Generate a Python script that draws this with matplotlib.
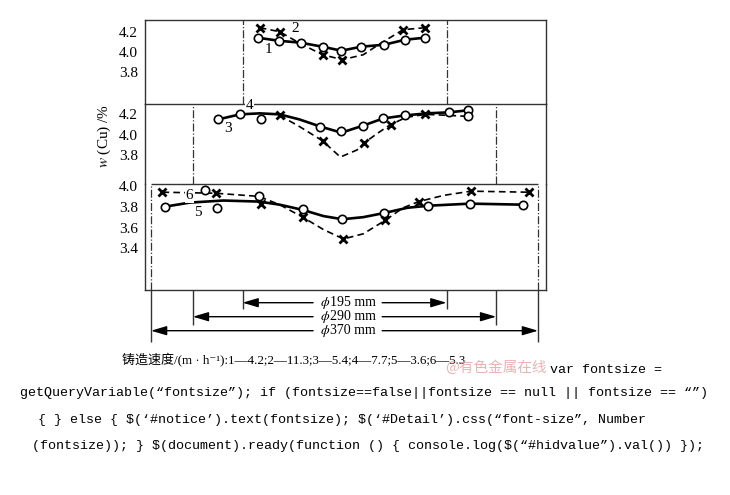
import numpy as np
import matplotlib.pyplot as plt
from matplotlib.transforms import offset_copy

plt.rcParams['font.family'] = ['Liberation Serif', 'Noto Sans CJK SC', 'DejaVu Sans']
plt.rcParams['mathtext.fontset'] = 'stix'

# position across ingot (mm, 0 = centre) and w(Cu) in %
# top panel, phi195 ingot: 1 (circles) and 2 (crosses)
x1 = [-83, -63, -42, -21, -3, 16, 38, 58, 77]
w1 = [4.14, 4.11, 4.09, 4.05, 4.01, 4.05, 4.07, 4.12, 4.14]
x2 = [-81, -62, -21, -2, 56, 77]
w2 = [4.24, 4.20, 3.97, 3.92, 4.22, 4.24]
x2_line = [-81, -62, -42, -21, -2, 18, 34, 56, 77]
w2_line = [4.24, 4.20, 4.08, 3.97, 3.92, 3.97, 4.08, 4.22, 4.24]

# middle panel, phi290 ingot: 3 (circles) and 4 (crosses)
x3 = [-121, -100, -80, -23, -3, 18, 37, 58, 100, 118, 118]
w3 = [4.15, 4.20, 4.15, 4.08, 4.04, 4.09, 4.16, 4.19, 4.22, 4.24, 4.18]
x3_line = [-121, -100, -81, -62, -43, -23, -3, 18, 37, 58, 79, 100, 118]
w3_line = [4.15, 4.20, 4.21, 4.20, 4.15, 4.08, 4.02, 4.09, 4.16, 4.19, 4.21, 4.22, 4.24]
x4 = [-62, -21, 19, 44, 77]
w4 = [4.19, 3.94, 3.92, 4.10, 4.20]
x4_line = [-62, -43, -21, -4, 12, 19, 31, 44, 59, 77, 100, 118]
w4_line = [4.19, 4.08, 3.94, 3.78, 3.85, 3.92, 4.01, 4.10, 4.17, 4.20, 4.19, 4.18]

# bottom panel, phi370 ingot: 5 (circles) and 6 (crosses)
x5 = [-172, -133, -122, -82, -40, -2, 38, 80, 120, 171]
w5 = [3.80, 3.96, 3.79, 3.90, 3.78, 3.68, 3.74, 3.81, 3.83, 3.82]
x5_line = [-172, -148, -116, -82, -62, -40, -20, -2, 18, 38, 60, 80, 120, 171]
w5_line = [3.80, 3.84, 3.86, 3.85, 3.82, 3.77, 3.71, 3.68, 3.70, 3.74, 3.79, 3.81, 3.83, 3.82]
x6 = [-174, -123, -80, -40, -1, 39, 71, 121, 176]
w6 = [3.94, 3.93, 3.83, 3.70, 3.49, 3.67, 3.85, 3.95, 3.94]
x6_line = [-174, -123, -82, -62, -40, -20, -1, 18, 39, 56, 71, 95, 121, 176]
w6_line = [3.94, 3.93, 3.90, 3.82, 3.70, 3.58, 3.49, 3.54, 3.67, 3.79, 3.85, 3.91, 3.95, 3.94]

diameters = [195, 290, 370]
caption = '铸造速度/(m · h⁻¹):1—4.2;2—11.3;3—5.4;4—7.7;5—3.6;6—5.3'
code_lines = [
    'var fontsize =',
    'getQueryVariable(“fontsize”); if (fontsize==false||fontsize == null || fontsize == “”)',
    '{ } else { $(‘#notice’).text(fontsize); $(‘#Detail’).css(“font-size”, Number',
    '(fontsize)); } $(document).ready(function () { console.log($(“#hidvalue”).val()) });',
]

W, H = 730, 495
fig = plt.figure(figsize=(W / 100, H / 100), dpi=100)


def box(x0, y0, x1, y1):
    return [x0 / W, 1 - y1 / H, (x1 - x0) / W, (y1 - y0) / H]


ax_top = fig.add_axes(box(145, 20, 546, 104))
ax_mid = fig.add_axes(box(145, 104, 546, 184))
ax_bot = fig.add_axes(box(145, 184, 546, 290))
ax_dim = fig.add_axes(box(145, 290, 546, 344))

frame = '#333333'
xlim = (-190.7, 192.6)
setup = [(ax_top, (3.477, 4.317), [3.8, 4.0, 4.2], ['left', 'right', 'top', 'bottom']),
         (ax_mid, (3.515, 4.302), [3.8, 4.0, 4.2], ['left', 'right']),
         (ax_bot, (2.999, 4.019), [3.4, 3.6, 3.8, 4.0], ['left', 'right', 'bottom'])]
for ax, yl, ticks, shown in setup:
    ax.set_xlim(*xlim)
    ax.set_ylim(*yl)
    ax.set_xticks([])
    ax.set_yticks(ticks)
    ax.set_yticklabels([f'{t:.1f}' for t in ticks])
    ax.tick_params(axis='y', length=0, pad=5, labelsize=11)
    for s in ax.spines:
        ax.spines[s].set_visible(s in shown)
        ax.spines[s].set_color(frame)
        ax.spines[s].set_linewidth(1.0)
    ax.patch.set_alpha(0)

# boundaries of each ingot (dash-dot)
for ax, d in zip([ax_top, ax_mid, ax_bot], diameters):
    ax.axvline(-d / 2, color=frame, lw=0.9, ls='-.')
    ax.axvline(d / 2, color=frame, lw=0.9, ls='-.')
ax_bot.hlines(ax_bot.get_ylim()[1], -diameters[2] / 2, diameters[2] / 2,
              color=frame, lw=1.0, clip_on=False)

solid = dict(color='black', lw=1.9, zorder=3)
dashed = dict(color='black', lw=1.2, ls=(0, (4, 2.5)), zorder=3)
circ = dict(ls='none', marker='o', ms=6, mfc='white', mec='black', mew=1.2, zorder=4)
cross = dict(ls='none', marker='x', ms=6, mec='black', mew=2, zorder=4)

ax_top.plot(x1, w1, **solid)
ax_top.plot(x2_line, w2_line, **dashed)
ax_top.plot(x1, w1, **circ)
ax_top.plot(x2, w2, **cross)

ax_mid.plot(x3_line, w3_line, **solid)
ax_mid.plot(x4_line, w4_line, **dashed)
ax_mid.plot(x3, w3, **circ)
ax_mid.plot(x4, w4, **cross)

ax_bot.plot(x5_line, w5_line, **solid)
ax_bot.plot(x6_line, w6_line, **dashed)
ax_bot.plot(x5, w5, **circ)
ax_bot.plot(x6, w6, **cross)

lab = dict(fontsize=11, ha='center', va='center', zorder=6, clip_on=False)
white = dict(facecolor='white', edgecolor='none', pad=0.5)
ax_top.text(-73, 4.02, '1', **lab)
ax_top.text(-47, 4.23, '2', **lab)
ax_mid.text(-111, 4.06, '3', **lab)
ax_mid.text(-91, 4.29, '4', bbox=white, **lab)
ax_bot.text(-140, 3.74, '5', **lab)
ax_bot.text(-148, 3.91, '6', bbox=white, **lab)

fig.text(104 / W, 1 - 136 / H, r'$w$ (Cu) /%', rotation=90, fontsize=11,
         ha='center', va='center')

# dimension lines, arrows run from the label out to each tick
ax_dim.set_xlim(*xlim)
ax_dim.set_ylim(2.95, -0.907)
ax_dim.axis('off')
tick_end = [0.47, 1.57, 2.78]
mid_x, gap = 3, 33
phi_tr = offset_copy(ax_dim.transData, fig=fig, x=-18, y=0, units='dots')
for i, d in enumerate(diameters):
    h = d / 2
    ax_dim.vlines([-h, h], -0.907, tick_end[i], color=frame, lw=1.0, clip_on=False)
    for side, start in ((-h, mid_x - gap), (h, mid_x + gap)):
        ax_dim.annotate('', xy=(side, i), xytext=(start, i),
                        arrowprops=dict(arrowstyle='-|>,head_length=0.95,head_width=0.28',
                                        color='black', lw=1.0, shrinkA=0, shrinkB=0,
                                        mutation_scale=10))
    ax_dim.text(mid_x, i, 'ϕ', transform=phi_tr, fontsize=10, family='STIXGeneral',
                style='italic', ha='right', va='center')
    ax_dim.text(mid_x, i, f'{d} mm', transform=phi_tr, fontsize=10,
                ha='left', va='center')

# caption and page text underneath
fig.text(122 / W, 1 - 360 / H, caption, fontsize=9.4, ha='left', va='center')
fig.text(445 / W, 1 - 368 / H, '@有色金属在线', fontsize=10.5, color='#e4a0a0',
         ha='left', va='center', family=['Noto Sans CJK SC'], alpha=0.8)
mono = ['Liberation Mono', 'DejaVu Sans Mono']
code_pos = [(550, 370), (20, 393), (38, 420), (32, 446)]
for (cx, cy), line in zip(code_pos, code_lines):
    fig.text(cx / W, 1 - cy / H, line, fontsize=9.6, family=mono, ha='left',
             va='center', parse_math=False)

fig.savefig('out.png', dpi=100)
